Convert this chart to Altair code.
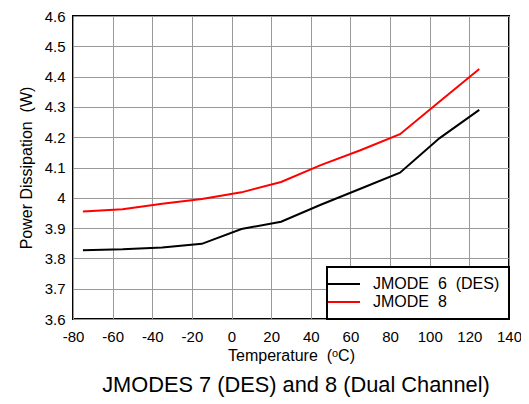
import altair as alt
import pandas as pd

NB = "\u00a0"
temps = [-75, -55, -35, -15, 5, 25, 45, 65, 85, 105, 125]
jmode6 = [3.827, 3.830, 3.836, 3.848, 3.897, 3.921, 3.977, 4.030, 4.083, 4.197, 4.290]
jmode8 = [3.955, 3.962, 3.980, 3.996, 4.018, 4.052, 4.108, 4.157, 4.210, 4.318, 4.425]
series = ["JMODE" + NB + " 6" + NB + " (DES)", "JMODE" + NB + " 8"]
colors = ["#000000", "#ff0000"]
x_ticks = [-80, -60, -40, -20, 0, 20, 40, 60, 80, 100, 120, 140]
y_ticks = [3.6, 3.7, 3.8, 3.9, 4.0, 4.1, 4.2, 4.3, 4.4, 4.5, 4.6]

rows = []
for t, v in zip(temps, jmode6):
    rows.append({"T": t, "P": v, "S": series[0]})
for t, v in zip(temps, jmode8):
    rows.append({"T": t, "P": v, "S": series[1]})
df = pd.DataFrame(rows)

FONT = "Liberation Sans"

line = alt.Chart(df).mark_line(strokeWidth=2).encode(
    x=alt.X("T:Q", scale=alt.Scale(domain=[-80, 140], nice=False),
            axis=alt.Axis(values=x_ticks, title="Temperature" + NB + " (ᵒC)",
                          labelExpr="datum.value + ''", labelFlush=False)),
    y=alt.Y("P:Q", scale=alt.Scale(domain=[3.6, 4.6], nice=False, zero=False),
            axis=alt.Axis(values=y_ticks, format="~g", labelFlush=False,
                          title="Power Dissipation" + NB + " (W)")),
    color=alt.Color("S:N", scale=alt.Scale(domain=series, range=colors),
                    legend=alt.Legend(title=None, orient="bottom-right", offset=0,
                                      symbolType="M-4,0H4", symbolSize=64,
                                      symbolStrokeWidth=2, labelOffset=21,
                                      labelFontSize=16, labelFont=FONT, labelColor="black",
                                      strokeColor="black", fillColor="white",
                                      padding=9, rowPadding=2, labelLimit=300)),
    order="T:Q",
)

chart = alt.layer(line).properties(
    width=436, height=303,
    autosize="none",
    padding={"left": 65, "top": 8, "right": 12, "bottom": 80},
    title=alt.TitleParams("JMODES 7 (DES) and 8 (Dual Channel)", orient="bottom",
                          anchor="middle", fontSize=21.8, font=FONT, fontWeight="normal",
                          color="black", offset=12, dx=5),
).configure_view(
    stroke="black", strokeWidth=2
).configure_axis(
    domain=False, ticks=False, grid=True, gridColor="#999999", gridWidth=1,
    labelFont=FONT, labelFontSize=15, labelColor="black", labelPadding=8,
    titleFont=FONT, titleFontSize=16, titleFontWeight="normal", titleColor="black",
).configure_axisX(
    labelPadding=10, titlePadding=3,
).configure_axisY(
    titlePadding=10,
).configure_legend(
    strokeWidth=2,
)

chart.save("out.html", embed_options={"renderer": "svg", "actions": False})
